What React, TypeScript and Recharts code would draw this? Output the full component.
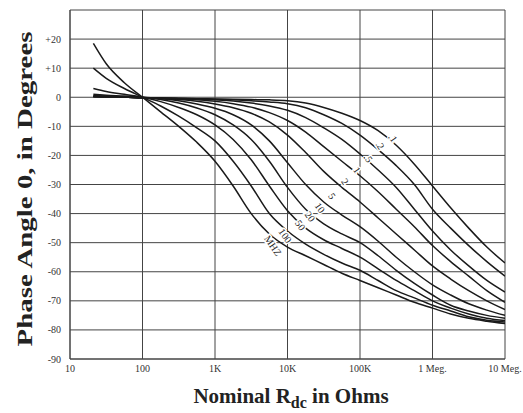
import { LineChart, Line, XAxis, YAxis, CartesianGrid, ReferenceDot } from 'recharts';

// resistance sample points (ohms), quarter decades, shared by every curve
const resistance = [
  21, 31.6, 56.2, 100, 178, 316, 562, 1e3, 1780, 3160, 5620, 1e4, 17800, 31600, 56200, 1e5,
  178000, 316000, 562000, 1e6, 1780000, 3160000, 5620000, 1e7,
];

// phase angle (degrees)
const phase100MHz = [18.5, 11.5, 5, 0, -5, -10, -15.5, -22, -30.5, -40, -47, -51.5, -54.5, -57.5, -60.5, -63, -65.5, -68, -70.5, -72.5, -74.5, -76, -77, -77.8];
const phase50MHz = [10, 6.5, 3, 0, -3, -6.5, -10.5, -15, -22, -30.5, -40, -46, -50.5, -54, -57, -59.5, -63, -66.5, -69, -71.5, -73.5, -75.5, -76.7, -77.3];
const phase20MHz = [3, 2, 1, 0, -1.5, -3.5, -6, -9.5, -14.5, -21.5, -30.5, -39, -45, -49, -52, -55, -59, -63, -66.5, -70, -72.5, -74.5, -76, -76.8];
const phase10MHz = [1, 0.7, 0.4, 0, -0.8, -2, -3.7, -6, -9.5, -14.5, -22, -31, -38.5, -43.5, -47, -50, -54.5, -59.5, -64, -68, -71.5, -73.5, -75, -76];
const phase5MHz = [0.5, 0.4, 0.2, 0, -0.5, -1.2, -2.3, -3.8, -6, -9.5, -15, -22.5, -30, -36, -40.5, -44.5, -49.5, -55, -60, -64.5, -68, -71, -73.2, -75];
const phase2MHz = [0.3, 0.2, 0.1, -0.2, -0.4, -0.8, -1.4, -2.3, -3.6, -5.5, -8.5, -13, -19, -25.5, -31, -36, -41.5, -47, -52.5, -58, -62.5, -66.5, -70, -73];
const phase1MHz = [0.3, 0.2, 0.1, -0.2, -0.3, -0.5, -0.9, -1.4, -2.2, -3.4, -5.3, -8, -12, -17, -22, -27, -32.5, -38.5, -44.5, -51, -56.5, -61.5, -66.5, -70.5];
const phase05MHz = [0.3, 0.2, 0.1, -0.2, -0.3, -0.4, -0.6, -0.9, -1.3, -2, -3, -4.5, -7, -10.5, -14.5, -19.5, -25, -31, -38.5, -46, -52.5, -58, -63, -67];
const phase02MHz = [0.3, 0.2, 0.1, -0.2, -0.3, -0.4, -0.5, -0.7, -0.9, -1.2, -1.6, -2.2, -3.6, -6, -9, -13, -18, -23.5, -30, -38.5, -45, -51, -56.5, -61.5];
const phase01MHz = [0.3, 0.2, 0.1, -0.2, -0.3, -0.4, -0.5, -0.6, -0.7, -0.8, -0.9, -1.2, -2, -3.5, -5.5, -8, -11.5, -16.5, -23, -30.5, -38, -45, -51.5, -57];

const curves = [
  { name: '100', values: phase100MHz },
  { name: '50', values: phase50MHz },
  { name: '20', values: phase20MHz },
  { name: '10', values: phase10MHz },
  { name: '5', values: phase5MHz },
  { name: '2', values: phase2MHz },
  { name: '1', values: phase1MHz },
  { name: '.5', values: phase05MHz },
  { name: '.2', values: phase02MHz },
  { name: '.1', values: phase01MHz },
];

// curve labels written along the lines
const labelText = ['.1', '.2', '.5', '1', '2', '5', '10', '20', '50', '100', 'MHZ'];
const labelR = [285000, 190000, 130000, 91000, 62000, 41000, 28000, 20500, 15000, 9300, 6300];
const labelPhase = [-14, -16.5, -21, -25, -29, -34, -38, -41, -44, -47.6, -51];

const rTicks = [10, 100, 1e3, 1e4, 1e5, 1e6, 1e7];
const rTickLabels = ['10', '100', '1K', '10K', '100K', '1 Meg.', '10 Meg.'];
const phaseTicks = [-90, -80, -70, -60, -50, -40, -30, -20, -10, 0, 10, 20, 30];

const serif = '"Liberation Serif", "DejaVu Serif", serif';

const CurveLabel = ({ cx, cy, text }: { cx?: number; cy?: number; text: string }) => (
  <text
    x={cx}
    y={cy}
    transform={`rotate(55 ${cx} ${cy})`}
    textAnchor="middle"
    dominantBaseline="central"
    fontFamily={serif}
    fontSize={10}
    fill="#222"
    stroke="#fff"
    strokeWidth={3}
    paintOrder="stroke"
  >
    {text}
  </text>
);

export default function App() {
  return (
    <div style={{ width: 523, height: 413, background: '#fff' }}>
      <style>{'body{margin:0}'}</style>
      <LineChart width={523} height={413} margin={{ top: 10, right: 18, bottom: 0, left: 0 }}>
        <CartesianGrid stroke="#444" strokeWidth={1} />
        <XAxis
          dataKey="r"
          type="number"
          scale="log"
          domain={[10, 1e7]}
          ticks={rTicks}
          allowDataOverflow
          height={54}
          tickLine={false}
          axisLine={{ stroke: '#444' }}
          tickMargin={0}
          tick={{ fontFamily: serif, fontSize: 10, fill: '#333' }}
          tickFormatter={(v: number) => rTickLabels[rTicks.indexOf(v)] ?? ''}
          label={{
            content: () => (
              <text x={291} y={403} textAnchor="middle" fontFamily={serif} fontWeight="bold" fontSize={21} fill="#222">
                Nominal R
                <tspan dy={5} fontSize={16}>dc</tspan>
                <tspan dy={-5}> in Ohms</tspan>
              </text>
            ),
          }}
        />
        <YAxis
          type="number"
          domain={[-90, 30]}
          ticks={phaseTicks}
          allowDataOverflow
          width={70}
          tickLine={false}
          axisLine={{ stroke: '#444' }}
          tickMargin={3}
          tick={{ fontFamily: serif, fontSize: 10, fill: '#333' }}
          tickFormatter={(v: number) => (v === 30 ? '' : v > 0 ? `+${v}` : `${v}`)}
          label={{
            content: () => (
              <text
                x={24}
                y={189}
                transform="rotate(-90 24 189)"
                textAnchor="middle"
                dominantBaseline="central"
                fontFamily={serif}
                fontWeight="bold"
                fontSize={22}
                textLength={315}
                lengthAdjust="spacingAndGlyphs"
                fill="#222"
              >
                Phase Angle 0, in Degrees
              </text>
            ),
          }}
        />
        {curves.map((c) => (
          <Line
            key={c.name}
            data={resistance.map((r, i) => ({ r, phase: c.values[i] }))}
            dataKey="phase"
            type="monotone"
            stroke="#1a1a1a"
            strokeWidth={1.5}
            dot={false}
            isAnimationActive={false}
          />
        ))}
        {labelText.map((t, i) => (
          <ReferenceDot
            key={t}
            x={labelR[i]}
            y={labelPhase[i]}
            r={0}
            shape={(p: any) => <CurveLabel cx={p.cx} cy={p.cy} text={t} />}
          />
        ))}
      </LineChart>
    </div>
  );
}
